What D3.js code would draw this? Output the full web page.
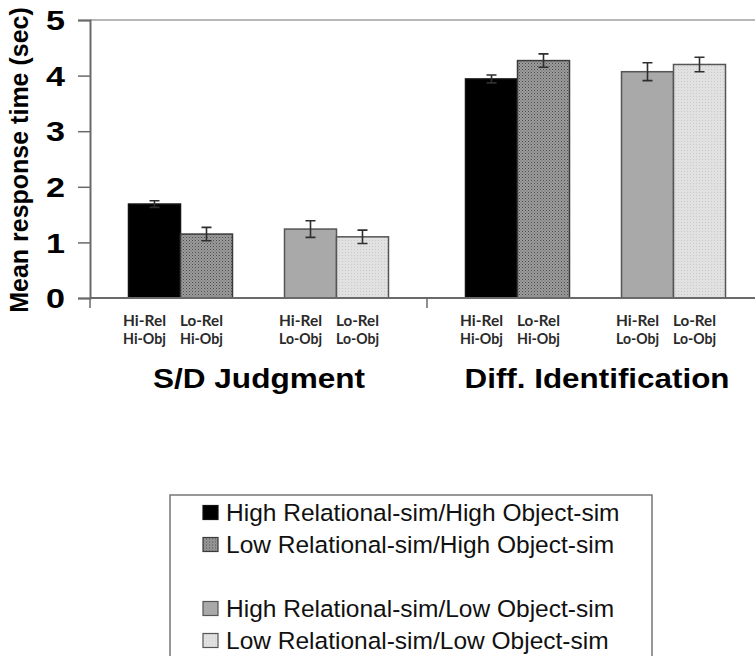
<!DOCTYPE html>
<html>
<head>
<meta charset="utf-8">
<script src="https://cdn.jsdelivr.net/npm/d3@7"></script>
<style>
  html, body { margin: 0; padding: 0; background: #fff; }
  svg { display: block; }
</style>
</head>
<body>
<svg id="chart" width="755" height="656"></svg>
<script>
// Task groups along the x axis
const groups = ["S/D Judgment", "Diff. Identification"];
// Condition levels inside each group
const objLevels = ["Hi-Obj", "Lo-Obj"];
const relLevels = ["Hi-Rel", "Lo-Rel"];
// Series (legend order): HiRel/HiObj, LoRel/HiObj, HiRel/LoObj, LoRel/LoObj
const seriesNames = [
  "High Relational-sim/High Object-sim",
  "Low Relational-sim/High Object-sim",
  "High Relational-sim/Low Object-sim",
  "Low Relational-sim/Low Object-sim"
];
// Mean response time (sec) per series, for each group
const meanSD   = [1.69, 1.15, 1.24, 1.10];
const meanDiff = [3.94, 4.27, 4.07, 4.20];
// Standard errors
const errSD    = [0.06, 0.12, 0.15, 0.12];
const errDiff  = [0.07, 0.12, 0.16, 0.13];
const yTicks = [0, 1, 2, 3, 4, 5];

const means = [meanSD, meanDiff];
const errs = [errSD, errDiff];

const svg = d3.select("#chart");
const W = 755, H = 656;

// Patterns for textured fills
const defs = svg.append("defs");
const dotted = defs.append("pattern").attr("id", "dotMid")
  .attr("patternUnits", "userSpaceOnUse").attr("width", 3).attr("height", 3);
dotted.append("rect").attr("width", 3).attr("height", 3).attr("fill", "#9c9c9c");
dotted.append("rect").attr("width", 1).attr("height", 1).attr("fill", "#4a4a4a");
dotted.append("rect").attr("x", 1.5).attr("y", 1.5).attr("width", 1).attr("height", 1).attr("fill", "#666");

const dottedLight = defs.append("pattern").attr("id", "dotLight")
  .attr("patternUnits", "userSpaceOnUse").attr("width", 3).attr("height", 3);
dottedLight.append("rect").attr("width", 3).attr("height", 3).attr("fill", "#e1e1e1");
dottedLight.append("rect").attr("width", 1).attr("height", 1).attr("fill", "#cacaca");

const fills = ["#000000", "url(#dotMid)", "#a9a9a9", "url(#dotLight)"];
const strokes = ["#111", "#3a3a3a", "#555", "#555"];

// Scales
const plotLeft = 90, plotRight = 764, plotTop = 20, plotBottom = 298;
const y = d3.scaleLinear().domain([0, 5]).range([plotBottom, plotTop]);
const xGroup = d3.scaleBand().domain(groups).range([plotLeft, plotRight]).padding(0);
const groupInset = 38.5;
const xPair = d3.scaleBand().domain(objLevels)
  .range([groupInset, xGroup.bandwidth() - groupInset])
  .paddingInner(1 / 3).paddingOuter(0);
const xRel = d3.scaleBand().domain(relLevels).range([0, xPair.bandwidth()]).padding(0);

// Flattened bar records
const bars = [];
groups.forEach((g, gi) => {
  seriesNames.forEach((s, si) => {
    const obj = objLevels[Math.floor(si / 2)];
    const rel = relLevels[si % 2];
    bars.push({
      group: g, series: si, obj, rel,
      value: means[gi][si], err: errs[gi][si],
      x: xGroup(g) + xPair(obj) + xRel(rel)
    });
  });
});

// Plot frame top line
svg.append("line")
  .attr("x1", plotLeft).attr("x2", W)
  .attr("y1", y(5)).attr("y2", y(5))
  .attr("stroke", "#b8b8b8").attr("stroke-width", 2);

// Bars
svg.append("g").selectAll("rect").data(bars).join("rect")
  .attr("x", d => d.x)
  .attr("y", d => y(d.value))
  .attr("width", xRel.bandwidth())
  .attr("height", d => y(0) - y(d.value))
  .attr("fill", d => fills[d.series])
  .attr("stroke", d => strokes[d.series])
  .attr("stroke-width", 1.5);

// Error bars
const eb = svg.append("g").attr("stroke", "#2e2e2e").attr("stroke-width", 1.6).attr("fill", "none");
const capHalf = 5;
eb.selectAll("path").data(bars).join("path")
  .attr("d", d => {
    const cx = d.x + xRel.bandwidth() / 2;
    const y1 = y(d.value + d.err), y2 = y(d.value - d.err);
    return `M${cx - capHalf},${y1}H${cx + capHalf}M${cx},${y1}V${y2}M${cx - capHalf},${y2}H${cx + capHalf}`;
  });

// Y axis
const yAxis = d3.axisLeft(y).tickValues(yTicks).tickFormat(d3.format("d")).tickSize(12).tickPadding(13);
const yg = svg.append("g").attr("transform", `translate(${plotLeft},0)`).call(yAxis);
yg.select(".domain").attr("stroke", "#6a6a6a").attr("stroke-width", 2);
yg.selectAll(".tick line").attr("stroke", "#6a6a6a").attr("stroke-width", 1.5);
yg.selectAll(".tick text")
  .attr("fill", "#000")
  .style("font-family", "'Liberation Sans', Arial, sans-serif")
  .style("font-weight", "bold")
  .style("font-size", "27px")
  .attr("textLength", 19)
  .attr("lengthAdjust", "spacingAndGlyphs")
  .attr("dy", "0.36em");

// X axis baseline with group separators
const xAxis = d3.axisBottom(xGroup).tickSize(0).tickFormat("");
const xg = svg.append("g").attr("transform", `translate(0,${plotBottom})`).call(xAxis);
xg.select(".domain").attr("d", `M${plotLeft},0H${plotRight}`).attr("stroke", "#6a6a6a").attr("stroke-width", 2);
xg.selectAll(".tick").remove();
xg.selectAll("line.sep").data(groups).join("line").attr("class", "sep")
  .attr("x1", d => xGroup(d)).attr("x2", d => xGroup(d))
  .attr("y1", 0).attr("y2", 10)
  .attr("stroke", "#6a6a6a").attr("stroke-width", 1.5);

// Condition labels under each bar
const labelOffset = { "Hi-Rel": -10, "Lo-Rel": -5 };
const condLabels = svg.append("g")
  .style("font-family", "Lato, 'Open Sans', sans-serif")
  .style("font-weight", "bold")
  .style("font-size", "16px")
  .attr("fill", "#2a2a2a")
  .attr("text-anchor", "middle");
bars.forEach(d => {
  const cx = d.x + xRel.bandwidth() / 2 + labelOffset[d.rel];
  condLabels.append("text").attr("x", cx).attr("y", 326)
    .attr("textLength", 43).attr("lengthAdjust", "spacingAndGlyphs").text(d.rel);
  condLabels.append("text").attr("x", cx).attr("y", 344)
    .attr("textLength", 43).attr("lengthAdjust", "spacingAndGlyphs").text(d.obj);
});

// Group titles
const titleWidths = { "S/D Judgment": 212, "Diff. Identification": 265 };
const titleCenters = { "S/D Judgment": 259, "Diff. Identification": 597 };
svg.append("g").selectAll("text").data(groups).join("text")
  .attr("x", d => titleCenters[d] - titleWidths[d] / 2)
  .attr("y", 388)
  .attr("textLength", d => titleWidths[d])
  .attr("lengthAdjust", "spacingAndGlyphs")
  .style("font-family", "'Liberation Sans', Arial, sans-serif")
  .style("font-weight", "bold")
  .style("font-size", "27px")
  .attr("fill", "#000")
  .text(d => d);

// Y axis title
svg.append("text")
  .attr("transform", "translate(28,160) rotate(-90)")
  .attr("text-anchor", "middle")
  .style("font-family", "'Liberation Sans', Arial, sans-serif")
  .style("font-weight", "bold")
  .style("font-size", "25px")
  .attr("fill", "#000")
  .text("Mean response time (sec)");

// Legend
const legend = svg.append("g");
legend.append("rect")
  .attr("x", 170).attr("y", 495).attr("width", 482).attr("height", 175)
  .attr("fill", "#fff").attr("stroke", "#777").attr("stroke-width", 1.5);
const rowY = i => 512.5 + 32 * (i + (i >= 2 ? 1 : 0));
const items = legend.selectAll("g.item").data(seriesNames).join("g").attr("class", "item")
  .attr("transform", (d, i) => `translate(203,${rowY(i)})`);
items.append("rect")
  .attr("x", 0).attr("y", -7).attr("width", 15).attr("height", 14)
  .attr("fill", (d, i) => fills[i]).attr("stroke", (d, i) => strokes[i]).attr("stroke-width", 1.2);
items.append("text")
  .attr("x", 23).attr("y", 8.5)
  .style("font-family", "'Liberation Sans', Arial, sans-serif")
  .style("font-size", "24.5px")
  .attr("fill", "#111")
  .text(d => d);
</script>
</body>
</html>
